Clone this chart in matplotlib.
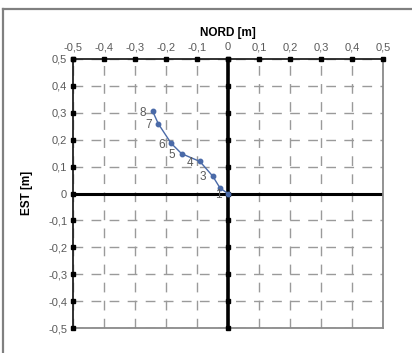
import matplotlib
matplotlib.use("Agg")
import matplotlib.pyplot as plt
from matplotlib.lines import Line2D
import numpy as np

plt.rcParams['font.family'] = ['Liberation Sans', 'DejaVu Sans']

# data (NORD on x, EST on y)
point_labels = ["1", "2", "3", "4", "5", "6", "7", "8"]
nord = [0.0, -0.025, -0.049, -0.090, -0.149, -0.183, -0.224, -0.242]
est = [0.0, 0.020, 0.065, 0.119, 0.148, 0.187, 0.259, 0.305]
shown_labels = ["1", "", "3", "4", "5", "6", "7", "8"]

ticks = [-0.5, -0.4, -0.3, -0.2, -0.1, 0.0, 0.1, 0.2, 0.3, 0.4, 0.5]
tick_labels = ["-0,5", "-0,4", "-0,3", "-0,2", "-0,1", "0", "0,1", "0,2", "0,3", "0,4", "0,5"]

W, H = 412, 353
fig = plt.figure(figsize=(W / 100, H / 100), dpi=100)
ax = fig.add_axes([72.7 / W, (H - 328) / H, (383 - 72.7) / W, (328 - 59) / H])

ax.set_xlim(-0.5, 0.5)
ax.set_ylim(-0.5, 0.5)
ax.set_xticks(ticks)
ax.set_yticks(ticks)
ax.set_xticklabels(tick_labels)
ax.set_yticklabels(tick_labels)
ax.xaxis.tick_top()
ax.tick_params(axis='both', length=0, labelsize=8, labelcolor='#5a5a5a')
ax.tick_params(axis='x', pad=5)
ax.tick_params(axis='y', pad=4)

# dashed grid
ax.grid(True, color='#9a9a9a', linewidth=1.0, linestyle=(0, (7, 6)))
ax.set_axisbelow(True)

# spines
for s in ['top', 'left']:
    ax.spines[s].set_color('#222222')
    ax.spines[s].set_linewidth(1.3)
for s in ['right', 'bottom']:
    ax.spines[s].set_color('#8a8a8a')
    ax.spines[s].set_linewidth(1.3)

# zero axes
ax.axvline(0, color='black', linewidth=2.6, zorder=2)
ax.axhline(0, color='black', linewidth=2.2, zorder=2)

# tick squares
ax.plot(ticks, [0.5] * len(ticks), 's', color='black', markersize=2.3, clip_on=False, zorder=3)
ax.plot([-0.5] * len(ticks), ticks, 's', color='black', markersize=2.3, clip_on=False, zorder=3)
ax.plot([0.0] * len(ticks), ticks, 's', color='black', markersize=2.3, clip_on=False, zorder=3)

# data
ax.plot(nord, est, '-o', color='#4a6aa8', linewidth=1.0, markersize=3.2, zorder=4)
for x, y, lab in zip(nord, est, shown_labels):
    if lab:
        ax.annotate(lab, (x, y), xytext=(-7, -1), textcoords='offset points',
                    fontsize=8.5, color='#5a5a5a', va='center', ha='center', zorder=5)

fig.text(228 / W, 1 - 33 / H, "NORD [m]", ha='center', va='center', fontsize=8.5,
         fontweight='bold', color='black')
fig.text(27 / W, 1 - 193 / H, "EST [m]", ha='center', va='center', fontsize=8.5,
         fontweight='bold', color='black', rotation=90)

# outer frame
fig.add_artist(Line2D([3 / W, 1.0], [1 - 9 / H, 1 - 9 / H], transform=fig.transFigure,
                      color='#808080', linewidth=1.6))
fig.add_artist(Line2D([3 / W, 3 / W], [0.0, 1 - 9 / H], transform=fig.transFigure,
                      color='#808080', linewidth=1.6))

fig.savefig("out.png", dpi=100)
